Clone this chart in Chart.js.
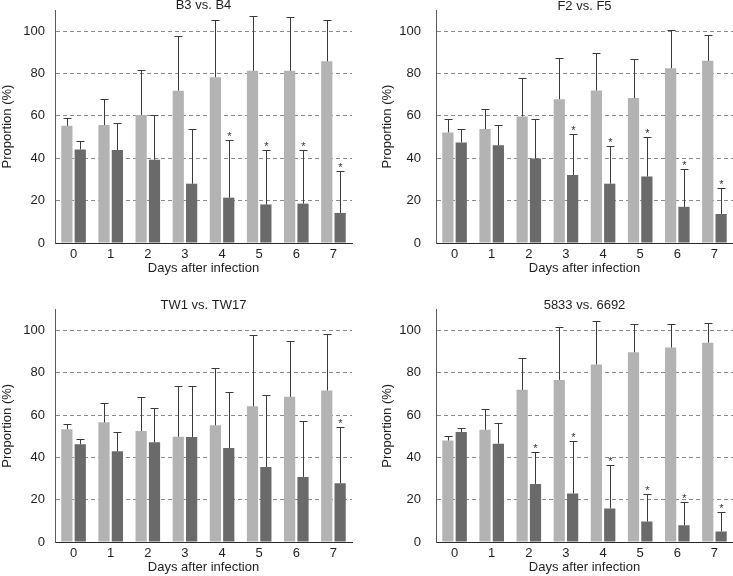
<!DOCTYPE html>
<html lang="en">
<head>
  <meta charset="UTF-8">
  <title>Proportion by day after infection</title>
  <script src="https://cdn.jsdelivr.net/npm/chart.js"></script>
  <style>
    body { margin: 0; background: #fff; }
    .fig { position: relative; width: 733px; height: 576px; overflow: hidden; }
    .panel { position: absolute; }
  </style>
</head>
<body>
<div class="fig">
  <div class="panel" style="left:0;top:0"><canvas id="p1" width="366" height="288"></canvas></div>
  <div class="panel" style="left:366px;top:0"><canvas id="p2" width="367" height="288"></canvas></div>
  <div class="panel" style="left:0;top:288px"><canvas id="p3" width="366" height="288"></canvas></div>
  <div class="panel" style="left:366px;top:288px"><canvas id="p4" width="367" height="288"></canvas></div>
</div>

<script>
  // values (mean and upper SD, in %)
  var days = ['0', '1', '2', '3', '4', '5', '6', '7'];
  var yTicks = [0, 20, 40, 60, 80, 100];

  var b3Mean = [55.3, 55.7, 60.4, 71.9, 78.3, 81.3, 81.3, 85.8];
  var b3Sd   = [3.7, 12.5, 21.2, 25.6, 26.9, 25.8, 25.3, 19.7];
  var b4Mean = [44.2, 43.9, 39.3, 28.0, 21.4, 18.2, 18.6, 14.2];
  var b4Sd   = [3.8, 12.7, 21.2, 25.8, 27.0, 25.5, 25.1, 19.6];
  var b4Sig  = [0, 0, 0, 0, 1, 1, 1, 1];

  var f2Mean = [52.2, 53.8, 59.7, 67.9, 72.0, 68.4, 82.5, 86.0];
  var f2Sd   = [6.3, 9.4, 18.4, 19.4, 17.9, 18.7, 18.0, 12.1];
  var f5Mean = [47.5, 46.2, 39.9, 32.1, 28.0, 31.4, 17.1, 13.7];
  var f5Sd   = [6.1, 9.3, 18.6, 19.2, 17.9, 18.8, 17.8, 12.1];
  var f5Sig  = [0, 0, 0, 1, 1, 1, 1, 1];

  var tw1Mean  = [53.3, 56.6, 52.5, 49.8, 55.2, 64.2, 68.7, 71.7];
  var tw1Sd    = [2.7, 9.0, 16.2, 23.9, 26.9, 33.6, 26.6, 26.7];
  var tw17Mean = [46.2, 42.9, 47.2, 49.7, 44.5, 35.5, 30.8, 27.8];
  var tw17Sd   = [2.5, 9.0, 16.0, 23.9, 26.7, 34.0, 26.6, 26.8];
  var tw17Sig  = [0, 0, 0, 0, 0, 0, 0, 1];

  var s5833Mean = [48.0, 53.1, 72.0, 76.7, 84.0, 89.8, 92.0, 94.3];
  var s5833Sd   = [2.0, 9.8, 15.1, 25.2, 20.4, 13.3, 11.1, 9.3];
  var s6692Mean = [52.0, 46.5, 27.5, 23.0, 15.9, 9.7, 7.9, 5.0];
  var s6692Sd   = [2.0, 9.9, 15.1, 25.0, 20.4, 13.2, 10.8, 9.3];
  var s6692Sig  = [0, 0, 1, 1, 1, 1, 1, 1];

  var FONT = '"Liberation Sans", Arial, sans-serif';
  var TEXT = '#1e1e1e';

  function makePanel(id, title, light, lightSd, dark, darkSd, darkSig, box) {
    var canvas = document.getElementById(id);
    var xAxisH = 33;

    // error bars, asterisks and the panel title
    var extras = {
      id: 'extras_' + id,
      afterDraw: function(chart) {
        var ctx = chart.ctx;
        var yScale = chart.scales.y;
        var a = chart.chartArea;
        var sds = [lightSd, darkSd];
        ctx.save();
        ctx.setLineDash([]);
        ctx.strokeStyle = '#3a3a3a';
        ctx.fillStyle = '#333';
        ctx.lineWidth = 1;
        ctx.font = '11px ' + FONT;
        ctx.textAlign = 'center';
        ctx.textBaseline = 'alphabetic';
        for (var i = 0; i < 2; i++) {
          var vals = chart.data.datasets[i].data;
          var bars = chart.getDatasetMeta(i).data;
          for (var j = 0; j < bars.length; j++) {
            var x = Math.round(bars[j].x) + 0.5;
            var top = Math.round(yScale.getPixelForValue(vals[j] + sds[i][j])) + 0.5;
            var base = yScale.getPixelForValue(vals[j]);
            ctx.beginPath();
            ctx.moveTo(x, base);
            ctx.lineTo(x, top);
            ctx.moveTo(x - 4, top);
            ctx.lineTo(x + 4, top);
            ctx.stroke();
            if (i === 1 && darkSig[j]) {
              ctx.fillText('*', x, top - 1);
            }
          }
        }
        ctx.fillStyle = TEXT;
        ctx.font = '13px ' + FONT;
        ctx.textBaseline = 'middle';
        ctx.fillText(title, (a.left + a.right) / 2, box.titleY);
        ctx.restore();
      }
    };

    return new Chart(canvas, {
      type: 'bar',
      data: {
        labels: days,
        datasets: [
          { data: light, backgroundColor: '#b3b3b3', borderWidth: 0 },
          { data: dark, backgroundColor: '#6a6a6a', borderWidth: 0 }
        ]
      },
      options: {
        responsive: false,
        animation: false,
        events: [],
        categoryPercentage: 0.72,
        barPercentage: 0.84,
        layout: {
          padding: {
            left: 0,
            top: box.top,
            right: canvas.width - box.right,
            bottom: canvas.height - box.bottom - xAxisH
          }
        },
        plugins: { legend: { display: false }, tooltip: { enabled: false } },
        scales: {
          x: {
            grid: { display: false, drawTicks: false, tickLength: 0 },
            border: { display: true, color: '#2a2a2a', width: 1 },
            ticks: { color: TEXT, font: { family: FONT, size: 13 }, padding: 4, maxRotation: 0 },
            title: { display: true, text: 'Days after infection', color: TEXT,
                     font: { family: FONT, size: 13 }, padding: 0 },
            afterFit: function(s) {
              s.height = xAxisH;
              s.paddingLeft = 0;
              s.paddingRight = 0;
            }
          },
          y: {
            min: 0,
            max: 110,
            afterBuildTicks: function(s) {
              s.ticks = yTicks.map(function(v) { return { value: v }; });
            },
            grid: {
              drawTicks: false,
              tickLength: 0,
              color: function(c) { return c.tick && c.tick.value === 0 ? 'rgba(0,0,0,0)' : '#8a8a8a'; },
              lineWidth: 1
            },
            border: { display: true, color: '#5a5a5a', width: 1, dash: [4, 3] },
            ticks: { color: TEXT, font: { family: FONT, size: 13 }, padding: box.tickPad },
            title: { display: true, text: 'Proportion (%)', color: TEXT,
                     font: { family: FONT, size: 13 }, padding: { top: box.titlePad, bottom: 0 } },
            afterFit: function(s) {
              s.width = box.left;
              s.paddingTop = 0;
              s.paddingBottom = 0;
            }
          }
        }
      },
      plugins: [extras]
    });
  }

  makePanel('p1', 'B3 vs. B4', b3Mean, b3Sd, b4Mean, b4Sd, b4Sig,
    { left: 55, right: 352, top: 10, bottom: 243, titleY: 5, tickPad: 10, titlePad: 0 });
  makePanel('p2', 'F2 vs. F5', f2Mean, f2Sd, f5Mean, f5Sd, f5Sig,
    { left: 70, right: 367, top: 10, bottom: 243, titleY: 6, tickPad: 15, titlePad: 14 });
  makePanel('p3', 'TW1 vs. TW17', tw1Mean, tw1Sd, tw17Mean, tw17Sd, tw17Sig,
    { left: 55, right: 352, top: 21.5, bottom: 254, titleY: 17, tickPad: 10, titlePad: 0 });
  makePanel('p4', '5833 vs. 6692', s5833Mean, s5833Sd, s6692Mean, s6692Sd, s6692Sig,
    { left: 70, right: 367, top: 21.5, bottom: 254, titleY: 17, tickPad: 15, titlePad: 14 });
</script>
</body>
</html>
